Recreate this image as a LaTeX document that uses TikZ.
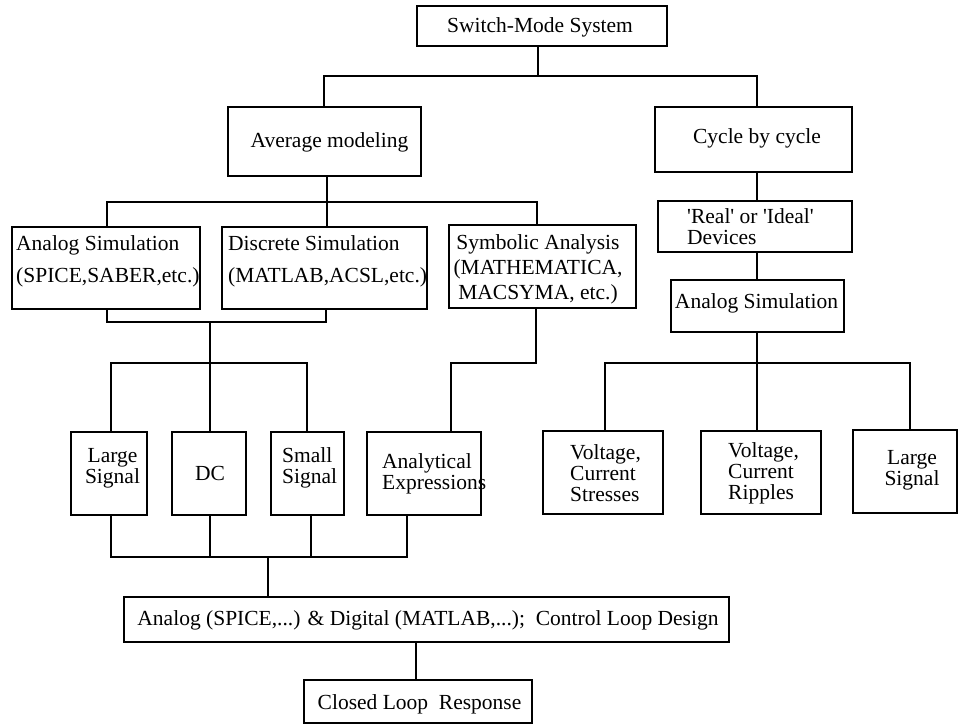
\documentclass[tikz,border=0pt]{standalone}
\usepackage{fontspec}
\setmainfont{Liberation Serif}
\newcommand\myfs[2]{\fontsize{#1}{#2}\selectfont}
\begin{document}
\begin{tikzpicture}[x=1pt,y=-1pt,
  box/.style={draw, line width=2.7pt, inner sep=0pt},
  txt/.style={inner sep=0pt, font=\myfs{21.5}{21}},
  wire/.style={line width=2.7pt, line cap=rect}]
\fill[white] (0,0) rectangle (960,725);
\useasboundingbox (0,0) rectangle (960,725);

% boxes
\node[box, minimum width=250pt, minimum height=40pt] (sms)   at (542,26)    {};
\node[box, minimum width=193pt, minimum height=69pt] (avg)   at (324.5,141.5) {};
\node[box, minimum width=197pt, minimum height=65pt] (cyc)   at (753.5,139.5) {};
\node[box, minimum width=188pt, minimum height=82pt] (asim)  at (106,268)   {};
\node[box, minimum width=205pt, minimum height=82pt] (dsim)  at (324.5,268) {};
\node[box, minimum width=187pt, minimum height=83pt] (sym)   at (542.5,266.5) {};
\node[box, minimum width=194pt, minimum height=51pt] (real)  at (755,226.5) {};
\node[box, minimum width=173pt, minimum height=52pt] (asimb) at (757.5,306) {};
\node[box, minimum width=76pt,  minimum height=83pt] (ls)    at (109,473.5) {};
\node[box, minimum width=74pt,  minimum height=83pt] (dc)    at (209,473.5) {};
\node[box, minimum width=73pt,  minimum height=83pt] (ss)    at (307.5,473.5) {};
\node[box, minimum width=114pt, minimum height=83pt] (ae)    at (424,473.5) {};
\node[box, minimum width=120pt, minimum height=83pt] (vs)    at (603,472.5) {};
\node[box, minimum width=120pt, minimum height=83pt] (vr)    at (761,472.5) {};
\node[box, minimum width=104pt, minimum height=83pt] (lsb)   at (905,471.5) {};
\node[box, minimum width=605pt, minimum height=45pt] (ad)    at (426.5,619.5) {};
\node[box, minimum width=228pt, minimum height=43pt] (cl)    at (418,701.5) {};

% texts
\node[txt] (t-sms) at (540,27) {Switch-Mode System};
\node[txt] (t-avg) at (329.5,142) {Average modeling};
\node[txt] (t-cyc) at (757,138) {Cycle by cycle};
\node[txt, anchor=west, align=left, font=\myfs{21.5}{32}] (t-asim) at (16,261)
  {Analog Simulation\\(SPICE,SABER,etc.)};
\node[txt, anchor=west, align=left, font=\myfs{21.5}{32}] (t-dsim) at (228,261)
  {Discrete Simulation\\(MATLAB,ACSL,etc.)};
\node[txt, align=center, font=\myfs{21.5}{25}] (t-sym) at (538,269)
  {Symbolic Analysis\\(MATHEMATICA,\\MACSYMA, etc.)};
\node[txt, anchor=west, align=left] (t-real) at (687,227)
  {\textquotesingle Real\textquotesingle\ or \textquotesingle Ideal\textquotesingle\\Devices};
\node[txt] (t-asimb) at (756.5,303) {Analog Simulation};
\node[txt, align=center] (t-ls) at (112.5,468.5) {Large\\Signal};
\node[txt] (t-dc) at (210,473) {DC};
\node[txt, anchor=west, align=left] (t-ss) at (282,468) {Small\\Signal};
\node[txt, anchor=west, align=left] (t-ae) at (382,473.5) {Analytical\\Expressions};
\node[txt, anchor=west, align=left] (t-vs) at (570,473) {Voltage,\\Current\\Stresses};
\node[txt, anchor=west, align=left] (t-vr) at (728,473) {Voltage,\\Current\\Ripples};
\node[txt, align=center] (t-lsb) at (912,470) {Large\\Signal};
\node[txt] (t-ad) at (428,620) {Analog (SPICE,...) \& Digital (MATLAB,...);~ Control Loop Design};
\node[txt] (t-cl) at (419.5,704) {Closed Loop~ Response};

% junctions
\coordinate (jtop) at (538,76);
\coordinate (jmid) at (327,202);
\coordinate (jr)   at (757,363);
\coordinate (jl1)  at (210,322);
\coordinate (jl2)  at (210,363);
\coordinate (jsb)  at (451,363);
\coordinate (jbot) at (268,557);

% connectors
\draw[wire] ([xshift=-4pt]sms.south) -- (jtop);
\draw[wire] ([xshift=-0.5pt]avg.north) |- (jtop) -| ([xshift=3.5pt]cyc.north);

\draw[wire] ([xshift=2.5pt]avg.south) -- ([xshift=2.5pt]dsim.north);
\draw[wire] ([xshift=1pt]asim.north) |- (jmid) -| ([xshift=-5.5pt]sym.north);

\draw[wire] ([xshift=3.5pt]cyc.south) -- ([xshift=2pt]real.north);
\draw[wire] ([xshift=2pt]real.south) -- ([xshift=-0.5pt]asimb.north);
\draw[wire] ([xshift=-0.5pt]asimb.south) -- (jr);
\draw[wire] ([xshift=2pt]vs.north) |- (jr) -| ([xshift=5pt]lsb.north);
\draw[wire] (jr) -- ([xshift=-4pt]vr.north);

\draw[wire] ([xshift=1pt]asim.south) |- (jl1) -| ([xshift=1.5pt]dsim.south);
\draw[wire] (jl1) -- (jl2);
\draw[wire] ([xshift=2pt]ls.north) |- (jl2) -| ([xshift=-0.5pt]ss.north);
\draw[wire] (jl2) -- ([xshift=1pt]dc.north);

\draw[wire] ([xshift=-6.5pt]sym.south) |- (jsb) -- ([xshift=27pt]ae.north);

\draw[wire] ([xshift=2pt]ls.south) |- (jbot) -| ([xshift=-17pt]ae.south);
\draw[wire] ([xshift=1pt]dc.south) -- ([xshift=1pt]dc.south |- jbot);
\draw[wire] ([xshift=3.5pt]ss.south) -- ([xshift=3.5pt]ss.south |- jbot);
\draw[wire] (jbot) -- ([xshift=-158.5pt]ad.north);

\draw[wire] ([xshift=-10.5pt]ad.south) -- ([xshift=-2pt]cl.north);
\end{tikzpicture}
\end{document}
